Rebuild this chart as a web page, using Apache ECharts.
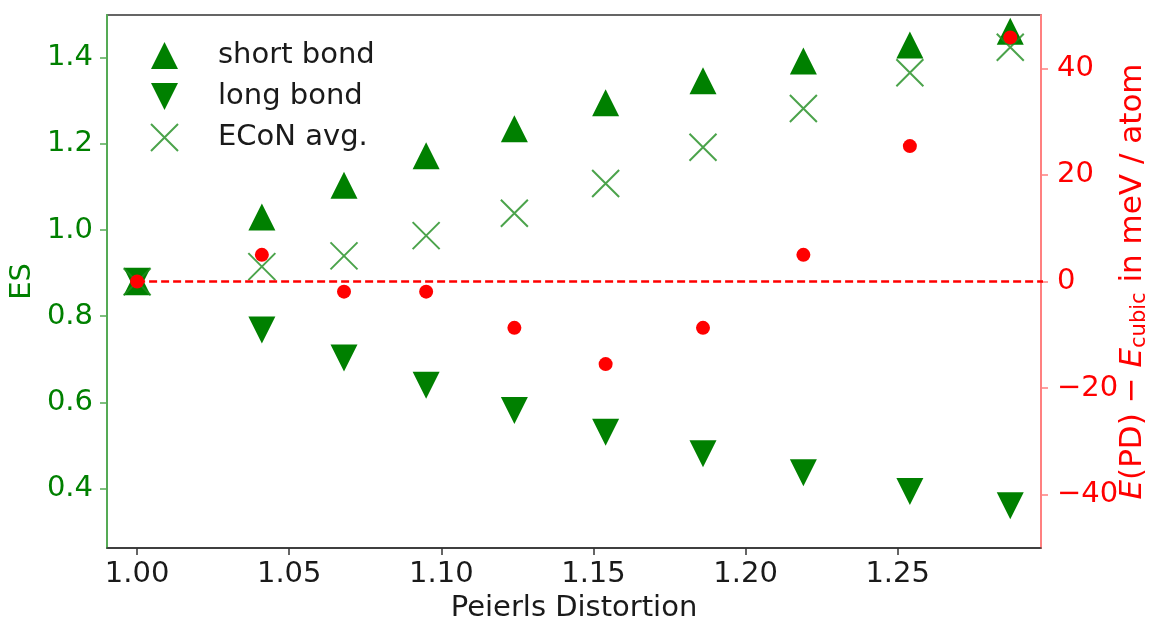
<!DOCTYPE html>
<html>
<head>
<meta charset="utf-8">
<script src="https://cdn.jsdelivr.net/npm/echarts@6/dist/echarts.min.js"></script>
<style>
html,body{margin:0;padding:0;background:#fff;}
#chart{width:1151px;height:619px;}
</style>
</head>
<body>
<div id="chart"></div>
<script>
// ---- data ----
var xValues   = [1.000, 1.041, 1.068, 1.095, 1.124, 1.154, 1.186, 1.219, 1.254, 1.287];
var shortBond = [0.880, 1.030, 1.104, 1.172, 1.235, 1.295, 1.346, 1.392, 1.429, 1.461];
var longBond  = [0.881, 0.768, 0.703, 0.640, 0.581, 0.531, 0.481, 0.437, 0.393, 0.360];
var econAvg   = [0.880, 0.915, 0.940, 0.987, 1.039, 1.108, 1.192, 1.282, 1.365, 1.424];
var energy    = [0.0, 5.0, -1.9, -1.9, -8.7, -15.5, -8.7, 5.0, 25.4, 45.8];
var zeroLineX = [1.0, 1.3];
var zeroLineY = [0, 0];
var xTicks    = [1.00, 1.05, 1.10, 1.15, 1.20, 1.25];
var esTicks   = [0.4, 0.6, 0.8, 1.0, 1.2, 1.4];
var eTicks    = [-40, -20, 0, 20, 40];
var seriesNames = ['short bond', 'long bond', 'ECoN avg.'];

function pairs(xs, ys) { return xs.map(function (x, i) { return [x, ys[i]]; }); }

var FONT = 'DejaVu Sans';
var FS = 29;
var GREEN = '#008000';
var RED = '#ff0000';

var chart = echarts.init(document.getElementById('chart'), null, {renderer: 'canvas'});
chart.setOption({
  animation: false,
  backgroundColor: '#ffffff',
  textStyle: {fontFamily: FONT},
  grid: {left: 107, right: 110, top: 15, bottom: 71, outerBoundsMode: 'none', containLabel: false,
    show: true, borderColor: '#333333', borderWidth: 1.5, backgroundColor: 'transparent'},
  legend: {
    show: true,
    orient: 'vertical',
    left: 145,
    top: 36,
    itemWidth: 27,
    itemHeight: 27,
    itemGap: 12,
    data: seriesNames,
    textStyle: {fontFamily: FONT, fontSize: FS, color: '#1a1a1a', padding: [0, 0, 0, 35]}
  },
  xAxis: {
    type: 'value',
    min: 0.9901,
    max: 1.2971,
    name: 'Peierls Distortion',
    nameLocation: 'middle',
    nameGap: 46,
    nameMoveOverlap: false,
    nameTextStyle: {fontFamily: FONT, fontSize: FS, color: '#1a1a1a'},
    axisLine: {show: true, onZero: false, lineStyle: {color: '#333333', width: 1.5}},
    axisTick: {show: true, length: 7, lineStyle: {color: '#333333', width: 1.5}, customValues: xTicks},
    axisLabel: {fontFamily: FONT, fontSize: FS, color: '#1a1a1a', margin: 12, customValues: xTicks,
      formatter: function (v) { return v.toFixed(2); }},
    splitLine: {show: false}
  },
  yAxis: [{
    type: 'value',
    position: 'left',
    min: 0.2622,
    max: 1.4988,
    name: 'ES',
    nameLocation: 'middle',
    nameRotate: 90,
    nameGap: 70,
    nameMoveOverlap: false,
    nameTextStyle: {fontFamily: FONT, fontSize: FS, color: GREEN},
    axisLine: {show: true, onZero: false, lineStyle: {color: '#55aa55', width: 2}},
    axisTick: {show: true, length: 7, lineStyle: {color: '#55aa55', width: 1.5}, customValues: esTicks},
    axisLabel: {fontFamily: FONT, fontSize: FS, color: GREEN, margin: 14, customValues: esTicks,
      formatter: function (v) { return v.toFixed(1); }},
    splitLine: {show: false}
  }, {
    type: 'value',
    position: 'right',
    min: -50,
    max: 50,
    name: '{it|E}(PD) − {it|E}{sub|cubic} in meV / atom',
    nameLocation: 'middle',
    nameRotate: 90,
    nameGap: 74,
    nameMoveOverlap: false,
    nameTextStyle: {fontFamily: FONT, fontSize: 31, color: RED,
      rich: {
        it: {fontFamily: FONT, fontSize: 31, fontStyle: 'italic', color: RED},
        sub: {fontFamily: FONT, fontSize: 21, color: RED, padding: [14, 0, 0, 0]}
      }},
    axisLine: {show: true, onZero: false, lineStyle: {color: '#ff8080', width: 2}},
    axisTick: {show: true, length: 7, lineStyle: {color: '#ff8080', width: 1.5}, customValues: eTicks},
    axisLabel: {fontFamily: FONT, fontSize: FS, color: RED, margin: 16, customValues: eTicks,
      formatter: function (v) { return v < 0 ? '\u2212' + Math.abs(v) : String(v); }},
    splitLine: {show: false}
  }],
  series: [{
    name: seriesNames[0],
    type: 'scatter',
    yAxisIndex: 0,
    symbol: 'triangle',
    symbolSize: 27,
    itemStyle: {color: GREEN, opacity: 1},
    data: pairs(xValues, shortBond),
    z: 2
  }, {
    name: seriesNames[1],
    type: 'scatter',
    yAxisIndex: 0,
    symbol: 'path://M0,0L2,0L1,2Z',
    symbolSize: 27,
    itemStyle: {color: GREEN, opacity: 1},
    data: pairs(xValues, longBond),
    z: 2
  }, {
    name: seriesNames[2],
    type: 'scatter',
    yAxisIndex: 0,
    symbol: 'path://M0,0L10,10M10,0L0,10',
    symbolSize: 27,
    itemStyle: {color: 'rgba(0,0,0,0)', borderColor: '#1e8c1e', borderWidth: 2},
    data: pairs(xValues, econAvg),
    z: 2
  }, {
    name: 'zero',
    type: 'line',
    yAxisIndex: 1,
    showSymbol: false,
    symbol: 'none',
    clip: true,
    lineStyle: {color: RED, width: 2.5, type: [8, 4]},
    data: pairs(zeroLineX, zeroLineY),
    z: 3
  }, {
    name: 'energy',
    type: 'scatter',
    yAxisIndex: 1,
    symbol: 'circle',
    symbolSize: 14,
    itemStyle: {color: RED, opacity: 1},
    data: pairs(xValues, energy),
    z: 4
  }]
});
</script>
</body>
</html>
